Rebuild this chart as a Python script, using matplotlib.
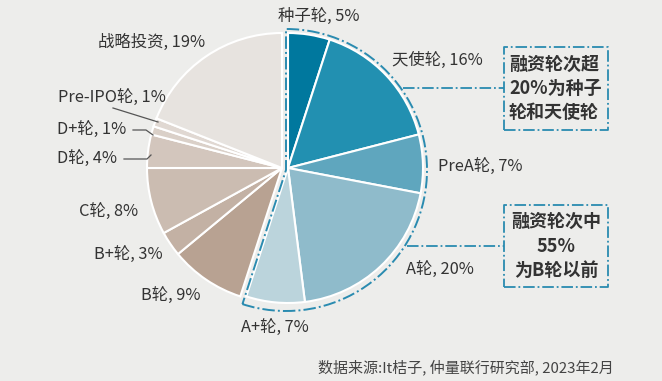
import numpy as np
import matplotlib.pyplot as plt
from matplotlib.patches import Wedge

plt.rcParams['font.family'] = ['Noto Sans CJK SC', 'DejaVu Sans']

# ---------------------------------------------------------------
# datos: rondas de financiación (%), en sentido horario desde arriba
# ---------------------------------------------------------------
rondas_azul = ["种子轮", "天使轮", "PreA轮", "A轮", "A+轮"]
valores_azul = [5, 16, 7, 20, 7]
colores_azul = ["#00789E", "#2290B1", "#5FA6BE", "#8FBBCB", "#BBD4DC"]

rondas_gris = ["B轮", "B+轮", "C轮", "D轮", "D+轮", "Pre-IPO轮", "战略投资"]
valores_gris = [9, 3, 8, 4, 1, 1, 19]
colores_gris = ["#B8A292", "#C3B1A4", "#CBBCB1", "#D3C6BD", "#DAD0C8", "#E0D8D2", "#E7E3DF"]

fuente = "数据来源:It桔子, 仲量联行研究部, 2023年2月"
nota_1 = "融资轮次超\n20%为种子\n轮和天使轮"
nota_2 = "融资轮次中\n55%\n为B轮以前"

FONDO = "#EDEDEB"
AZUL_LINEA = "#2A8BB0"
TEXTO = "#333333"

# escala: 1 unidad = R px, centro del grupo gris en (282, 168) px
R = 135.0
CX, CY = 282.0, 168.0
W, H = 662, 381


def px(x, y):
    return (x - CX) / R, (CY - y) / R


fig = plt.figure(figsize=(6.62, 3.81), dpi=100)
fig.patch.set_facecolor(FONDO)
ax = fig.add_axes([0, 0, 1, 1])
ax.set_facecolor(FONDO)
ax.axis("off")

frac_azul = np.array(valores_azul) / 100
frac_gris = np.array(valores_gris) / 100
centro_azul = px(288, 168)

ax.pie(frac_azul, colors=colores_azul, startangle=90, counterclock=False,
       normalize=False, center=centro_azul, radius=1.0,
       wedgeprops=dict(edgecolor="white", linewidth=1.5))
ax.pie(frac_gris, colors=colores_gris, startangle=90 - 360 * frac_azul.sum(),
       counterclock=False, normalize=False, center=(0, 0), radius=1.0,
       wedgeprops=dict(edgecolor="white", linewidth=1.5))
ax.set_xlim(px(0, 0)[0], px(W, 0)[0])
ax.set_ylim(px(0, H)[1], px(0, 0)[1])
ax.set_aspect("equal")

# contorno punteado del grupo azul
ang_fin = 90 - 360 * frac_azul.sum()
ax.add_patch(Wedge(px(286, 170), 141 / R, ang_fin, 90, fill=False,
                   edgecolor=AZUL_LINEA, linestyle="-.", linewidth=1.4))

# cajas de notas
for (x0, y0, x1, y1), txt, ha, xt in [((504, 47, 608, 130), nota_1, "left", 509),
                                      ((504, 205, 608, 287), nota_2, "center", 556)]:
    a, b = px(x0, y1)
    c, d = px(x1, y0)
    ax.plot([a, c, c, a, a], [b, b, d, d, b], color=AZUL_LINEA, linestyle="-.", linewidth=1.3)
    ax.text(*px(xt, (y0 + y1) / 2), txt, ha=ha, va="center", fontsize=13,
            fontweight="bold", color=TEXTO, linespacing=1.35)

# líneas de conexión
for y, x0 in [(88, 403), (246, 407)]:
    a, b = px(x0, y)
    c, _ = px(504, y)
    ax.plot([a, c], [b, b], color=AZUL_LINEA, linestyle="-.", linewidth=1.3)

# etiquetas
etiquetas = [
    ("种子轮, 5%", 278, 16),
    ("天使轮, 16%", 392, 60),
    ("PreA轮, 7%", 438, 167),
    ("A轮, 20%", 406, 270),
    ("A+轮, 7%", 241, 328),
    ("B轮, 9%", 141, 296),
    ("B+轮, 3%", 94, 255),
    ("C轮, 8%", 79, 212),
    ("D轮, 4%", 57, 159),
    ("D+轮, 1%", 57, 130),
    ("Pre-IPO轮, 1%", 58, 98),
    ("战略投资, 19%", 98, 42),
]
for txt, x, y in etiquetas:
    ax.text(*px(x, y), txt, ha="left", va="center", fontsize=11.8, color=TEXTO)

# guías de las etiquetas pequeñas
for xs, ys in [([124, 147, 151], [159, 159, 155]),
               ([133, 146, 153], [130, 130, 135]),
               ([113, 158], [108, 122])]:
    pts = [px(x, y) for x, y in zip(xs, ys)]
    ax.plot([p[0] for p in pts], [p[1] for p in pts], color="#555555", linewidth=0.9)

ax.text(*px(614, 367), fuente, ha="right", va="center", fontsize=10.8, color="#444444")

fig.savefig("out.png", dpi=100, facecolor=FONDO)
